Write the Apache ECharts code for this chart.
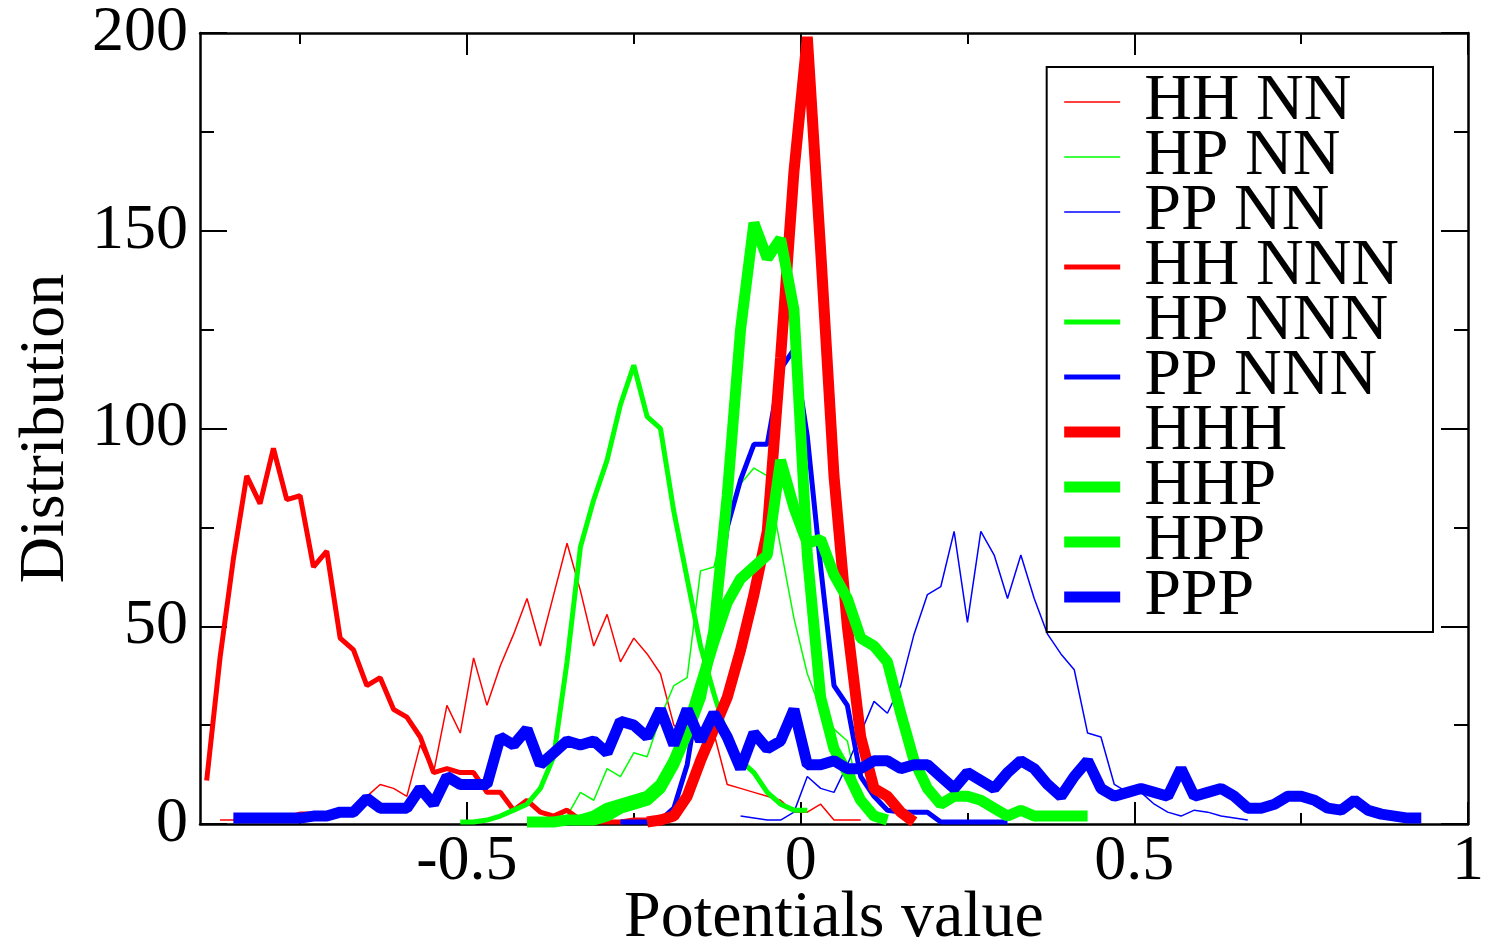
<!DOCTYPE html>
<html>
<head>
<meta charset="utf-8">
<title>Potentials value distribution</title>
<script src="https://cdn.jsdelivr.net/npm/echarts@6.0.0/dist/echarts.min.js"></script>
<style>
  html, body { margin: 0; padding: 0; background: #fff; }
  #chart { width: 1486px; height: 946px; }
</style>
</head>
<body>
<div id="chart"></div>
<script>
// bin centres (potential value)
const bins = [
  -0.89, -0.87, -0.85, -0.83, -0.81, -0.79, -0.77, -0.75, -0.73, -0.71,
  -0.69, -0.67, -0.65, -0.63, -0.61, -0.59, -0.57, -0.55, -0.53, -0.51,
  -0.49, -0.47, -0.45, -0.43, -0.41, -0.39, -0.37, -0.35, -0.33, -0.31,
  -0.29, -0.27, -0.25, -0.23, -0.21, -0.19, -0.17, -0.15, -0.13, -0.11,
  -0.09, -0.07, -0.05, -0.03, -0.01, 0.01, 0.03, 0.05, 0.07, 0.09,
  0.11, 0.13, 0.15, 0.17, 0.19, 0.21, 0.23, 0.25, 0.27, 0.29,
  0.31, 0.33, 0.35, 0.37, 0.39, 0.41, 0.43, 0.45, 0.47, 0.49,
  0.51, 0.53, 0.55, 0.57, 0.59, 0.61, 0.63, 0.65, 0.67, 0.69,
  0.71, 0.73, 0.75, 0.77, 0.79, 0.81, 0.83, 0.85, 0.87, 0.89,
  0.91, 0.93
];

// each series: first bin, then counts per bin
const hhNNFrom = -0.87;
const hhNN = [1, 1, 1, 1, 1.5, 2, 3, 3, 2, 3, 4, 7, 10, 9, 7, 20, 13, 30, 23, 42,
  30, 40, 48, 57, 45, 58, 71, 59, 45, 53, 41, 47, 43, 38, 25, 22, 22, 23, 10, 9,
  8, 7, 6, 3, 3, 5, 1, 1, 1];

const hpNNFrom = -0.35;
const hpNN = [2, 8, 6, 14, 12, 18, 17, 27, 35, 37, 64, 65, 78, 86, 90, 88, 70, 52, 38, 29,
  24, 21, 5, 1];

const ppNNFrom = -0.09;
const ppNN = [2, 1.5, 1, 1, 3, 12, 9, 8, 15, 23, 31, 28, 35, 48, 58, 60, 74, 51, 74, 68,
  57, 68, 57, 48, 43, 39, 23, 22, 10, 8, 8, 5, 3, 2, 3.5, 3, 2, 1.5, 1];

const hhNNNFrom = -0.89;
const hhNNN = [11, 42, 67, 88, 81, 95, 82, 83, 65, 69, 47, 44, 35, 37, 29, 27, 22, 13, 14, 13,
  13, 8, 8, 3.5, 6, 3, 2, 3.5, 1, 0.5, 0.5, 0.5, 1, 1, 0];

const hpNNNFrom = -0.51;
const hpNNN = [0.5, 0.5, 1, 2, 3.5, 5, 9, 17, 41, 70, 82, 92, 106, 116, 103, 100, 79, 62, 45, 33,
  22, 16, 13, 8, 5, 3.5, 3.5];

const ppNNNFrom = -0.27;
const ppNNN = [0.5, 0.5, 0.5, 1, 4, 15, 36, 50, 75, 87, 96, 96, 115, 120, 98, 65, 35, 30, 12, 7,
  3.5, 3, 3, 3, 0.5, 0.5, 0.5, 0.5, 0.5, 0.5];

const hhhFrom = -0.23;
const hhh = [0.5, 1, 2, 7, 16, 24, 32, 44, 58, 74, 118, 165, 199, 145, 88, 50, 22, 9, 7, 3, 0.5];

const hhpFrom = -0.41;
const hhp = [0.5, 0.5, 0.5, 1, 1, 1, 2, 4, 5, 6, 9, 15, 23, 32, 49, 83, 125, 152, 143, 148,
  130, 68, 32, 19, 13, 6, 2, 1];

const hppFrom = -0.33;
const hpp = [1, 2, 4, 5, 6, 7, 10, 16, 24, 35, 46, 56, 62, 65, 68, 92, 80, 71, 72, 63,
  57, 47, 45, 41, 28, 16, 9, 5, 7, 7, 6, 4, 2, 3.5, 2, 2, 2, 2, 2];

const pppFrom = -0.85;
const ppp = [1.5, 1.5, 1.5, 1.5, 1.5, 1.5, 2, 2, 3, 3, 6.5, 4, 4, 4, 9, 5, 12, 10, 10, 10,
  22, 20, 24, 15, 18, 21, 20, 21, 18, 26, 25, 22, 29, 20, 29, 21, 28, 22, 14, 23,
  19, 21, 29, 15, 15, 16, 14, 14, 16, 16, 14, 15, 15, 12, 9, 13, 11, 9, 13, 16,
  14, 10, 7, 12, 16, 9, 7, 8, 9, 8, 7, 14, 7, 8, 9, 7, 4, 4, 5, 7,
  7, 6, 4, 3.5, 6, 3.5, 2.5, 2, 1.5, 1.5];

const xMajorTicks = [-0.5, 0, 0.5, 1];
const xMinorTicks = [-0.75, -0.25, 0.25, 0.75];

const RED = '#ff0000', GREEN = '#00ff00', BLUE = '#0000ff';
const FONT = 'Liberation Serif';

function pairs(from, values) {
  const start = bins.indexOf(from);
  return values.map((v, i) => [bins[start + i], v]);
}

function line(name, color, width, from, values) {
  return {
    name: name,
    type: 'line',
    symbol: 'none',
    lineStyle: { color: color, width: width },
    itemStyle: { color: color },
    data: pairs(from, values)
  };
}

function xAxisOf(position, ticks, len, withLine, withLabel) {
  return {
    type: 'value',
    position: position,
    min: -0.9,
    max: 1,
    axisLine: { show: withLine, onZero: false, lineStyle: { color: '#000', width: 2.5 } },
    axisTick: { show: true, inside: true, length: len, customValues: ticks,
      lineStyle: { color: '#000', width: 2 } },
    axisLabel: withLabel ? {
      show: true, customValues: ticks, margin: 6,
      fontFamily: FONT, fontSize: 64, color: '#000'
    } : { show: false },
    splitLine: { show: false }
  };
}

function yAxisOf(position, withLabel) {
  return {
    type: 'value',
    position: position,
    min: 0,
    max: 200,
    interval: 50,
    axisLine: { show: true, onZero: false, lineStyle: { color: '#000', width: 2.5 } },
    axisTick: { show: true, inside: true, length: 27, lineStyle: { color: '#000', width: 2 } },
    minorTick: { show: true, splitNumber: 2, length: 14, lineStyle: { color: '#000', width: 2 } },
    axisLabel: withLabel ? {
      show: true, margin: 12, fontFamily: FONT, fontSize: 64, color: '#000'
    } : { show: false },
    splitLine: { show: false },
    minorSplitLine: { show: false }
  };
}

const chart = echarts.init(document.getElementById('chart'), null, { renderer: 'canvas' });

const bottomMajor = xAxisOf('bottom', xMajorTicks, 22, true, true);
bottomMajor.name = 'Potentials value';
bottomMajor.nameLocation = 'middle';
bottomMajor.nameGap = 62;
bottomMajor.nameMoveOverlap = false;
bottomMajor.nameTextStyle = { fontFamily: FONT, fontSize: 66, color: '#000' };

const leftAxis = yAxisOf('left', true);
leftAxis.name = 'Distribution';
leftAxis.nameLocation = 'middle';
leftAxis.nameGap = 122;
leftAxis.nameMoveOverlap = false;
leftAxis.nameTextStyle = { fontFamily: FONT, fontSize: 64, color: '#000' };

chart.setOption({
  animation: false,
  backgroundColor: '#fff',
  grid: { left: 200, right: 18, top: 33, bottom: 122, containLabel: false, outerBoundsMode: 'none' },
  legend: {
    orient: 'vertical',
    right: 53,
    top: 67,
    padding: [2, 34, 2, 12],
    itemWidth: 56,
    itemHeight: 12,
    itemGap: -11,
    backgroundColor: '#fff',
    borderColor: '#000',
    borderWidth: 2,
    borderRadius: 0,
    itemStyle: { opacity: 0 },
    lineStyle: { width: 'inherit' },
    textStyle: { fontFamily: FONT, fontSize: 66, color: '#000', padding: [0, 0, 0, 19] },
    data: ['HH NN', 'HP NN', 'PP NN', 'HH NNN', 'HP NNN', 'PP NNN', 'HHH', 'HHP', 'HPP', 'PPP']
  },
  xAxis: [
    bottomMajor,
    xAxisOf('bottom', xMinorTicks, 11, false, false),
    xAxisOf('top', xMajorTicks, 22, true, false),
    xAxisOf('top', xMinorTicks, 11, false, false)
  ],
  yAxis: [
    leftAxis,
    yAxisOf('right', false)
  ],
  series: [
    line('HH NN', RED, 1.5, hhNNFrom, hhNN),
    line('HP NN', GREEN, 1.5, hpNNFrom, hpNN),
    line('PP NN', BLUE, 1.5, ppNNFrom, ppNN),
    line('HH NNN', RED, 5, hhNNNFrom, hhNNN),
    line('HP NNN', GREEN, 5, hpNNNFrom, hpNNN),
    line('PP NNN', BLUE, 5, ppNNNFrom, ppNNN),
    line('HHH', RED, 11, hhhFrom, hhh),
    line('HHP', GREEN, 11, hhpFrom, hhp),
    line('HPP', GREEN, 11, hppFrom, hpp),
    line('PPP', BLUE, 11, pppFrom, ppp)
  ]
});
</script>
</body>
</html>
